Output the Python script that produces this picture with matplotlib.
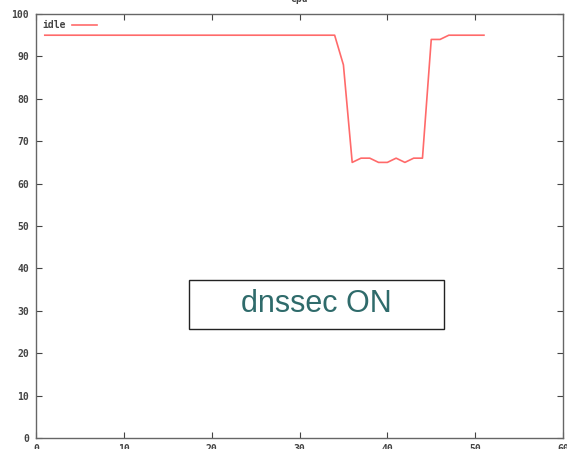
import matplotlib
matplotlib.use('Agg')
import matplotlib.pyplot as plt
import matplotlib.patches as patches

# cpu idle samples (percent), one per interval
t    = list(range(1, 52))
idle = ([95] * 34 +
        [88, 65, 66, 66, 65, 65, 66, 65, 66, 66, 94, 94] +
        [95] * 5)

fig = plt.figure(figsize=(5.67, 4.49), dpi=100)
ax = fig.add_axes([36/567, 11/449, 527/567, 424/449])

ax.plot(t, idle, color='#ff5a5a', linewidth=1.2, alpha=0.9, label='idle')

ax.set_xlim(0, 60)
ax.set_ylim(0, 100)
ax.set_xticks(range(0, 61, 10))
ax.set_yticks(range(0, 101, 10))

mono = dict(family='DejaVu Sans Mono', size=7, weight='bold', color='#444444')
ax.set_xticklabels([str(v) for v in range(0, 61, 10)], **mono)
ax.set_yticklabels([str(v) for v in range(0, 101, 10)], **mono)
ax.tick_params(direction='in', length=4, width=0.8, color='#444444',
               top=True, right=True, pad=5)
ax.tick_params(axis='x', pad=4)
for s in ax.spines.values():
    s.set_color('#666666')
    s.set_linewidth(1.0)

# gnuplot-style key: label first, sample after it
leg = ax.legend(loc='upper left', frameon=False, handlelength=2.6,
                markerfirst=False, borderaxespad=0.25, handletextpad=0.6,
                prop=dict(family='DejaVu Sans Mono', size=7, weight='bold'))
for txt in leg.get_texts():
    txt.set_color('#444444')

# title sits mostly above the visible area
fig.text(0.528, 0.996, 'cpu', ha='center', va='baseline',
         family='DejaVu Sans Mono', size=7, weight='bold', color='#444444')

# annotation box
box = patches.Rectangle((17.4, 25.7), 29.0, 11.6, facecolor='white',
                        edgecolor='#222222', linewidth=1.0)
ax.add_patch(box)
ax.text(31.9, 31.5, 'dnssec ON', ha='center', va='center',
        family='Liberation Sans', size=22, color='#2f6b6b')

plt.savefig('out.png', dpi=100)
